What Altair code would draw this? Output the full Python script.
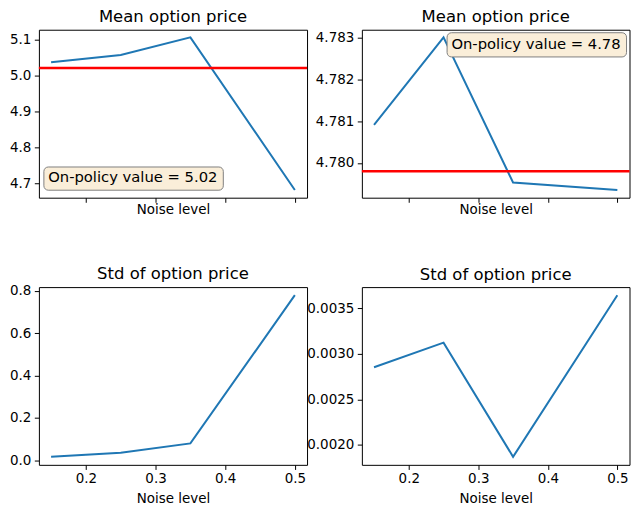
import altair as alt
import pandas as pd

noise_levels = [0.15, 0.25, 0.35, 0.5]
mean_price_a = [5.037, 5.057, 5.106, 4.682]
mean_price_b = [4.78091, 4.78300, 4.77953, 4.77935]
std_price_a = [0.016, 0.035, 0.079, 0.780]
std_price_b = [0.002853, 0.003124, 0.001869, 0.003646]
on_policy_a = 5.021
on_policy_b = 4.7798

x_ticks = [0.2, 0.3, 0.4, 0.5]
ticks_mean_a = [4.7, 4.8, 4.9, 5.0, 5.1]
ticks_mean_b = [4.780, 4.781, 4.782, 4.783]
ticks_std_a = [0.0, 0.2, 0.4, 0.6, 0.8]
ticks_std_b = [0.0020, 0.0025, 0.0030, 0.0035]

FONT = "DejaVu Sans"
W_LEFT, W_RIGHT = 269, 268.5
H_TOP, H_BOTTOM = 168.5, 178.3


def pad_domain(vals):
    lo, hi = min(vals), max(vals)
    m = (hi - lo) * 0.05
    return [lo - m, hi + m]


def panel(values, yticks, yfmt, title, bottom, width, height, title_offset=4,
          on_policy=None, box=None):
    df = pd.DataFrame({"noise": noise_levels, "value": values})
    xdom = pad_domain(noise_levels)
    if bottom:
        xaxis = alt.Axis(values=x_ticks, format=".1f", title="Noise level",
                         labelPadding=2.5, titlePadding=6)
    else:
        xaxis = alt.Axis(values=x_ticks, labels=False, title="Noise level",
                         titlePadding=0)
    line = alt.Chart(df).mark_line(color="#1f77b4", strokeWidth=2).encode(
        x=alt.X("noise:Q", scale=alt.Scale(domain=xdom, nice=False, zero=False),
                axis=xaxis),
        y=alt.Y("value:Q", scale=alt.Scale(domain=pad_domain(values), nice=False, zero=False),
                axis=alt.Axis(values=yticks, format=yfmt, title=None, labelPadding=3.5)),
    )
    layers = [line]
    if on_policy is not None:
        ann = alt.Data(values=[{"v": on_policy, "label": f"On-policy value = {on_policy:.2f}"}])
        rule = alt.Chart(ann).mark_rule(color="red", strokeWidth=2.6).encode(y="v:Q")
        bx0, bx1, by0, by1 = box
        rect = alt.Chart(ann).mark_rect(
            fill="#FAEED9", stroke="#808080", strokeWidth=1, cornerRadius=4.4
        ).encode(x=alt.value(bx0), x2=alt.value(bx1), y=alt.value(by0), y2=alt.value(by1))
        txt = alt.Chart(ann).mark_text(
            align="left", baseline="middle", font=FONT, fontSize=14.8, color="black"
        ).encode(x=alt.value(bx0 + 4.3), y=alt.value((by0 + by1) / 2 - 0.3), text="label:N")
        layers += [rule, rect, txt]
    return alt.layer(*layers).properties(
        width=width, height=height,
        title=alt.TitleParams(title, fontSize=16.5, font=FONT, fontWeight="normal",
                              color="black", offset=title_offset, frame="group"),
    )


p1 = panel(mean_price_a, ticks_mean_a, ".1f", "Mean option price", False, W_LEFT, H_TOP,
           on_policy=on_policy_a, box=(5, 185, H_TOP - 30.8, H_TOP - 7.5))
p2 = panel(mean_price_b, ticks_mean_b, ".3f", "Mean option price", False, W_RIGHT, H_TOP,
           on_policy=on_policy_b, box=(W_RIGHT - 183, W_RIGHT - 3, 3, 27.3))
p3 = panel(std_price_a, ticks_std_a, ".1f", "Std of option price", True, W_LEFT, H_BOTTOM,
           title_offset=1.1)
p4 = panel(std_price_b, ticks_std_b, ".4f", "Std of option price", True, W_RIGHT, H_BOTTOM)

chart = alt.concat(
    p1, p2, p3, p4, columns=2, spacing={"row": 89.2, "column": 55}, bounds="flush"
).properties(
    padding={"left": 0, "top": 0, "right": 0, "bottom": 0}
).configure_view(
    stroke="black", strokeWidth=1
).configure_axis(
    grid=False, domain=False, labelFont=FONT, titleFont=FONT, labelFontSize=13.5,
    titleFontSize=13.5, titleFontWeight="normal", labelColor="black", titleColor="black",
    tickColor="black", tickSize=4.6, tickWidth=1
)

chart.save("out.html", embed_options={"renderer": "svg", "actions": False})
